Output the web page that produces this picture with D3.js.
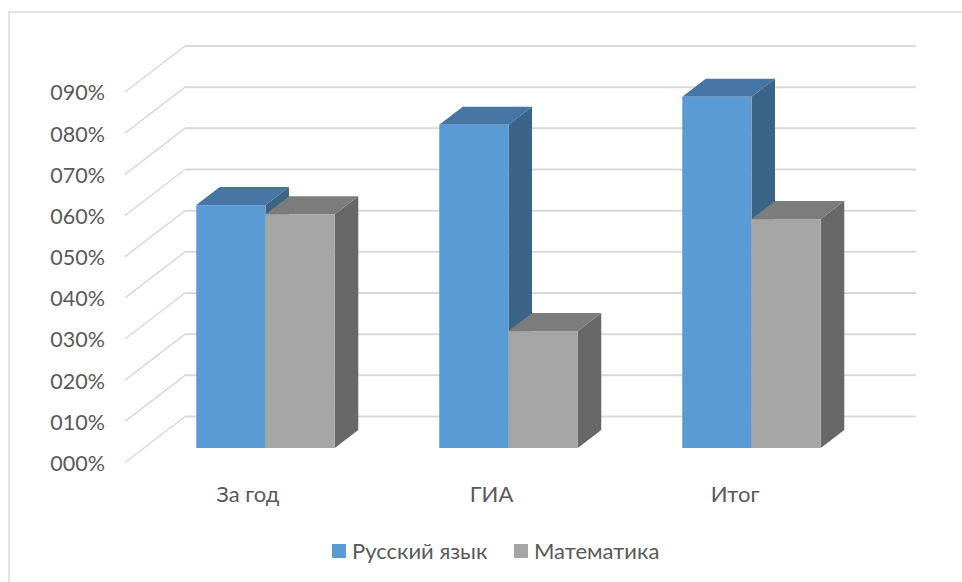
<!DOCTYPE html>
<html>
<head>
<meta charset="utf-8">
<script src="https://cdn.jsdelivr.net/npm/d3@7"></script>
<style>
  html, body { margin: 0; padding: 0; background: #fff; }
  svg { display: block; }
  text { font-family: Lato, "Open Sans", sans-serif; fill: #595959; }
</style>
</head>
<body>
<script>
// данные
let categories = ['За год', 'ГИА', 'Итог']
let seriesNames = ['Русский язык', 'Математика']
let russianValues = [59, 78.5, 85.3]
let mathValues = [56.8, 28.4, 55.6]
let yTicks = [0, 10, 20, 30, 40, 50, 60, 70, 80, 90]

let Width = 962
let Height = 582
let fontSize = 22

let svg = d3.select('body')
  .append('svg')
  .attr('width', Width)
  .attr('height', Height)

// рамка
svg.append('path')
  .attr('d', 'M9,' + Height + 'V12H' + Width)
  .attr('fill', 'none')
  .attr('stroke', '#d9d9d9')
  .attr('stroke-width', 1.5)

// псевдо-3D смещения: пол спереди, бар, задняя стенка
let floorFront = { x: 125, y: 462.5 }
let barShift = { x: 19, y: -14.5 }
let depthBar = { x: 23.5, y: -18 }
let wallShift = { x: 60, y: -46 }
let plotWidth = 731
let barsWidth = 729
let plotHeight = 370.5

// масштабы
let yFront = d3.scaleLinear().domain([0, 90]).range([floorFront.y, floorFront.y - plotHeight])
let xFront = d3.scaleBand().domain(categories).range([floorFront.x, floorFront.x + plotWidth])
let xBars = d3.scaleBand().domain(categories)
  .range([floorFront.x + barShift.x, floorFront.x + barShift.x + barsWidth])
  .paddingInner(0.43).paddingOuter(0.215)
let xSeries = d3.scaleBand().domain(seriesNames).range([0, xBars.bandwidth()])
let colors = d3.scaleOrdinal().domain(seriesNames).range(['#5b9bd5', '#a5a5a5'])
let topColors = d3.scaleOrdinal().domain(seriesNames).range(['#4676a3', '#7c7c7c'])
let sideColors = d3.scaleOrdinal().domain(seriesNames).range(['#3a6488', '#686868'])

// сетка: косая часть и задняя стенка
let grid = svg.append('g')
grid.selectAll('line.slant').data(yTicks).join('line')
  .attr('class', 'slant')
  .attr('x1', floorFront.x)
  .attr('y1', d => yFront(d))
  .attr('x2', floorFront.x + wallShift.x)
  .attr('y2', d => yFront(d) + wallShift.y)
  .attr('stroke', '#d9d9d9')
  .attr('stroke-width', 1.5)
grid.selectAll('line.back').data(yTicks).join('line')
  .attr('class', 'back')
  .attr('x1', floorFront.x + wallShift.x)
  .attr('y1', d => yFront(d) + wallShift.y)
  .attr('x2', floorFront.x + wallShift.x + plotWidth)
  .attr('y2', d => yFront(d) + wallShift.y)
  .attr('stroke', '#d9d9d9')
  .attr('stroke-width', 2)

// столбцы
let barRows = []
categories.forEach((c, i) => {
  barRows.push({ cat: c, name: seriesNames[0], value: russianValues[i] })
  barRows.push({ cat: c, name: seriesNames[1], value: mathValues[i] })
})

let pts = arr => arr.map(p => p.join(',')).join(' ')
let bars = svg.append('g').selectAll('g').data(barRows).join('g')

bars.each(function (d) {
  let g = d3.select(this)
  let x0 = xBars(d.cat) + xSeries(d.name)
  let x1 = x0 + xSeries.bandwidth()
  let y0 = yFront(0) + barShift.y
  let y1 = yFront(d.value) + barShift.y
  // боковая грань
  g.append('polygon')
    .attr('points', pts([[x1, y1], [x1 + depthBar.x, y1 + depthBar.y], [x1 + depthBar.x, y0 + depthBar.y], [x1, y0]]))
    .attr('fill', sideColors(d.name))
  // верхняя грань
  g.append('polygon')
    .attr('points', pts([[x0, y1], [x0 + depthBar.x, y1 + depthBar.y], [x1 + depthBar.x, y1 + depthBar.y], [x1, y1]]))
    .attr('fill', topColors(d.name))
  // передняя грань
  g.append('rect')
    .attr('x', x0)
    .attr('y', y1)
    .attr('width', x1 - x0)
    .attr('height', y0 - y1)
    .attr('fill', colors(d.name))
})

// оси
let yAxis = d3.axisLeft(yFront)
  .tickValues(yTicks)
  .tickSize(0)
  .tickPadding(20)
  .tickFormat(d => d3.format('03d')(d) + '%')
svg.append('g')
  .attr('transform', 'translate(' + floorFront.x + ',1)')
  .call(yAxis)
  .call(g => g.select('.domain').remove())
  .selectAll('text')
  .style('font-size', '21.5px')
  .style('font-family', 'Lato, "Open Sans", sans-serif')

let xAxis = d3.axisBottom(xFront).tickSize(0).tickPadding(24)
svg.append('g')
  .attr('transform', 'translate(1,' + floorFront.y + ')')
  .call(xAxis)
  .call(g => g.select('.domain').remove())
  .selectAll('text')
  .style('font-size', fontSize + 'px')
  .style('font-family', 'Lato, "Open Sans", sans-serif')

// легенда
let legendX = d3.scaleOrdinal().domain(seriesNames).range([332, 514])
let legend = svg.append('g').selectAll('g').data(seriesNames).join('g')
  .attr('transform', d => 'translate(' + legendX(d) + ',544)')
legend.append('rect')
  .attr('width', 14)
  .attr('height', 14)
  .attr('fill', d => colors(d))
legend.append('text')
  .attr('x', 20)
  .attr('y', 7)
  .attr('dy', '0.35em')
  .style('font-size', fontSize + 'px')
  .text(d => d)
</script>
</body>
</html>
